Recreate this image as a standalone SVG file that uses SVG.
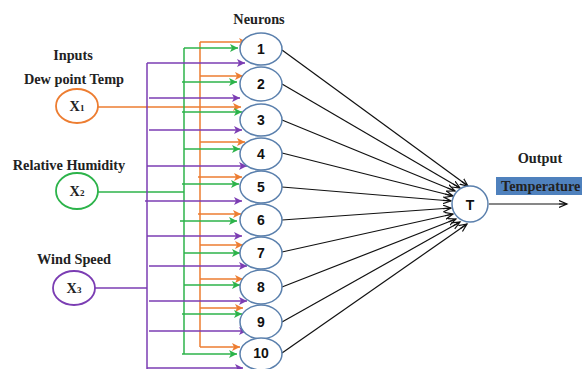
<svg xmlns="http://www.w3.org/2000/svg" width="582" height="369" viewBox="0 0 582 369">
<defs>
<style>
.lbl{font-family:"Liberation Serif","Times New Roman",serif;font-weight:bold;font-size:14.3px;fill:#222}
.num{font-family:"Liberation Sans",Arial,sans-serif;font-weight:bold;font-size:14px;fill:#111;text-anchor:middle}
.neu{fill:#fff;stroke:#5b80ad;stroke-width:1.5}
.or{stroke:#ed7d31;stroke-width:1.5;fill:none}
.gr{stroke:#2cb34a;stroke-width:1.5;fill:none}
.pu{stroke:#7b3db3;stroke-width:1.5;fill:none}
.bk{stroke:#111;stroke-width:1.2;fill:none}
.ora{marker-end:url(#ao)}
.gra{marker-end:url(#ag)}
.pua{marker-end:url(#ap)}
.bka{marker-end:url(#ak)}
</style>
<marker id="ao" markerUnits="userSpaceOnUse" markerWidth="10" markerHeight="10" refX="8" refY="4" orient="auto"><path d="M0,0 L8,4 L0,8 L2,4 Z" fill="#ed7d31"/></marker>
<marker id="ag" markerUnits="userSpaceOnUse" markerWidth="10" markerHeight="10" refX="8" refY="4" orient="auto"><path d="M0,0 L8,4 L0,8 L2,4 Z" fill="#2cb34a"/></marker>
<marker id="ap" markerUnits="userSpaceOnUse" markerWidth="10" markerHeight="10" refX="8" refY="4" orient="auto"><path d="M0,0 L8,4 L0,8 L2,4 Z" fill="#7b3db3"/></marker>
<marker id="ak" markerUnits="userSpaceOnUse" markerWidth="10" markerHeight="10" refX="8" refY="4" orient="auto"><path d="M0,0.5 L8,4 L0,7.5 M8,4 L0,4" stroke="#111" stroke-width="1.2" fill="none"/></marker>
</defs>
<rect width="582" height="369" fill="#fff"/>

<g id="labels">
<text class="lbl" x="73" y="60" text-anchor="middle">Inputs</text>
<text class="lbl" x="74" y="84" text-anchor="middle">Dew point Temp</text>
<text class="lbl" x="69" y="170" text-anchor="middle">Relative Humidity</text>
<text class="lbl" x="74" y="264" text-anchor="middle">Wind Speed</text>
<text class="lbl" x="259" y="24" text-anchor="middle">Neurons</text>
<text class="lbl" x="540" y="163" text-anchor="middle">Output</text>
</g>

<g id="connectors">
<!-- orange -->
<path class="or" d="M98,107 H200"/>
<path class="or" d="M200,347 V42"/>
<path class="or ora" d="M200,42 H247"/>
<path class="or ora" d="M200,76 H243"/>
<path class="or ora" d="M200,107 H241"/>
<path class="or ora" d="M200,142 H245"/>
<path class="or ora" d="M198,177 H242"/>
<path class="or ora" d="M198,214 H241"/>
<path class="or ora" d="M200,245 H243"/>
<path class="or ora" d="M200,279 H243"/>
<path class="or ora" d="M200,308 H243"/>
<path class="or ora" d="M200,347 H240"/>
<!-- green -->
<path class="gr" d="M98,192 H184"/>
<path class="gr" d="M184,354 V48"/>
<path class="gr gra" d="M184,48 H238"/>
<path class="gr gra" d="M182,82 H237"/>
<path class="gr gra" d="M182,112 H242"/>
<path class="gr gra" d="M184,149 H240"/>
<path class="gr gra" d="M182,184 H239"/>
<path class="gr gra" d="M180,221 H237"/>
<path class="gr gra" d="M184,253 H240"/>
<path class="gr gra" d="M184,285 H240"/>
<path class="gr gra" d="M182,314 H242"/>
<path class="gr gra" d="M182,354 H237"/>
<!-- purple -->
<path class="pu" d="M95,288 H147"/>
<path class="pu" d="M147,369 V63"/>
<path class="pu pua" d="M147,63 H245"/>
<path class="pu pua" d="M149,98 H240"/>
<path class="pu pua" d="M149,130 H242"/>
<path class="pu pua" d="M147,166 H247"/>
<path class="pu pua" d="M145,201 H242"/>
<path class="pu pua" d="M147,236 H242"/>
<path class="pu pua" d="M149,266 H247"/>
<path class="pu pua" d="M149,301 H247"/>
<path class="pu pua" d="M149,331 H247"/>
<path class="pu pua" d="M147,368 H243"/>
<!-- black -->
<path class="bk bka" d="M282,50 L468,186"/>
<path class="bk bka" d="M282,84 L460,188"/>
<path class="bk bka" d="M282,120 L455,191"/>
<path class="bk bka" d="M282,153 L453,196"/>
<path class="bk bka" d="M282,187 L451,201"/>
<path class="bk bka" d="M282,220 L451,208"/>
<path class="bk bka" d="M282,252 L453,214"/>
<path class="bk bka" d="M282,287 L456,219"/>
<path class="bk bka" d="M282,322 L460,222"/>
<path class="bk bka" d="M282,353 L467,224"/>
<path class="bk bka" d="M489,204 H567"/>
</g>

<g id="x1"><ellipse cx="77" cy="106" rx="21" ry="17" fill="#fff" stroke="#ed7d31" stroke-width="1.8"/><text class="lbl" x="77" y="111" text-anchor="middle" font-size="13">X<tspan font-size="9">1</tspan></text></g>
<g id="x2"><ellipse cx="77" cy="191" rx="21" ry="18" fill="#fff" stroke="#2cb34a" stroke-width="1.8"/><text class="lbl" x="77" y="196" text-anchor="middle" font-size="13">X<tspan font-size="9">2</tspan></text></g>
<g id="x3"><ellipse cx="74" cy="288" rx="21" ry="17" fill="#fff" stroke="#7b3db3" stroke-width="1.8"/><text class="lbl" x="74" y="293" text-anchor="middle" font-size="13">X<tspan font-size="9">3</tspan></text></g>

<g id="n1"><ellipse class="neu" cx="261" cy="49" rx="21" ry="16"/><text class="num" x="261" y="54">1</text></g>
<g id="n2"><ellipse class="neu" cx="261" cy="84" rx="21" ry="17"/><text class="num" x="261" y="89">2</text></g>
<g id="n3"><ellipse class="neu" cx="261" cy="120" rx="21" ry="16"/><text class="num" x="261" y="125">3</text></g>
<g id="n4"><ellipse class="neu" cx="261" cy="154" rx="21" ry="16"/><text class="num" x="261" y="159">4</text></g>
<g id="n5"><ellipse class="neu" cx="261" cy="187" rx="21" ry="16"/><text class="num" x="261" y="192">5</text></g>
<g id="n6"><ellipse class="neu" cx="261" cy="220" rx="21" ry="16"/><text class="num" x="261" y="225">6</text></g>
<g id="n7"><ellipse class="neu" cx="261" cy="253" rx="21" ry="16"/><text class="num" x="261" y="258">7</text></g>
<g id="n8"><ellipse class="neu" cx="261" cy="287" rx="21" ry="17"/><text class="num" x="261" y="292">8</text></g>
<g id="n9"><ellipse class="neu" cx="261" cy="322" rx="21" ry="17"/><text class="num" x="261" y="327">9</text></g>
<g id="n10"><ellipse class="neu" cx="261" cy="354" rx="21" ry="16"/><text class="num" x="261" y="358" font-size="12">10</text></g>

<g id="T"><ellipse class="neu" cx="470" cy="204" rx="18" ry="18"/><text class="num" x="470" y="209.5" font-size="15">T</text></g>

<g id="output"><rect x="496" y="177" width="86" height="18" fill="#4f81bd"/><text class="lbl" x="501" y="191" fill="#111" font-size="14.5">Temperature</text></g>
</svg>
